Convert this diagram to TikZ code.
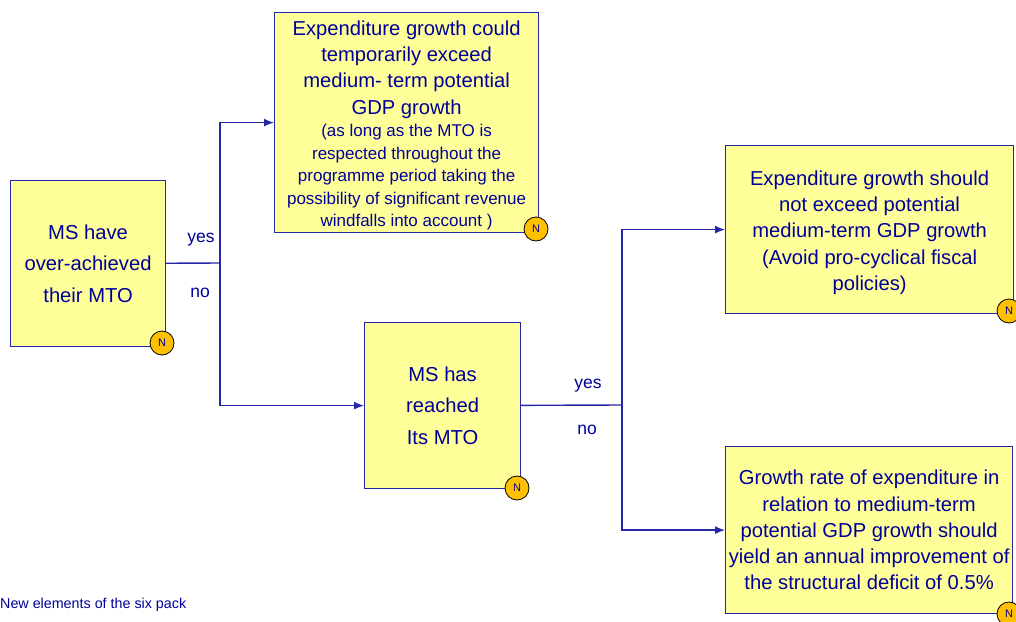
\documentclass[tikz,border=0pt]{standalone}
\usepackage{fontspec}
\setmainfont{Liberation Sans}
\usetikzlibrary{arrows.meta}
\definecolor{boxblue}{HTML}{000099}
\definecolor{boxfill}{HTML}{FFFF99}
\definecolor{badgefill}{HTML}{FFC000}
\newcommand{\bigtxt}{\fontsize{20.2}{26.3}\selectfont}
\newcommand{\smalltxt}{\fontsize{17}{22.5}\selectfont}
\tikzset{
  msbox/.style={draw=boxblue!85!white,line width=1.2pt,fill=boxfill,text=boxblue,align=center,
    inner sep=0pt,anchor=north west,font=\bigtxt},
  flow/.style={draw=boxblue!85!white,line width=1.4pt},
  flowto/.style={flow,-{Latex[length=10pt,width=8pt]}},
  badge/.style={circle,draw=black,line width=0.8pt,fill=badgefill,text=boxblue,minimum size=24pt,
    inner sep=0pt,font=\fontsize{11}{13}\selectfont},
  answer/.style={text=boxblue,inner sep=0pt,font=\fontsize{17.5}{20}\selectfont}
}
\begin{document}
\begin{tikzpicture}[x=1pt,y=-1pt]
  \useasboundingbox (0,0) rectangle (1016,621);
  \node[msbox,minimum width=155pt,minimum height=166pt] (over) at (10,180)
    {MS have\\[5pt]over-achieved\\[5pt]their MTO};
  \node[msbox,minimum width=264pt,minimum height=220pt] (could) at (274,12)
    {\rule{0pt}{20.5pt}Expenditure growth could\\temporarily exceed\\medium- term potential\\GDP growth\\[-3.8pt]
     \smalltxt (as long as the MTO is\\[-3.8pt]\smalltxt respected throughout the\\[-3.8pt]\smalltxt programme period taking the\\[-3.8pt]
     \smalltxt possibility of significant revenue\\[-3.8pt]\smalltxt windfalls into account )};
  \node[msbox,minimum width=156pt,minimum height=166pt] (reached) at (364,322)
    {MS has\\[5pt]reached\\[5pt]Its MTO};
  \node[msbox,minimum width=288pt,minimum height=168pt] (should) at (725,145)
    {\rule{0pt}{20.5pt}Expenditure growth should\\not exceed potential\\medium-term GDP growth\\(Avoid pro-cyclical fiscal\\policies)};
  \node[msbox,minimum width=287pt,minimum height=167pt] (rate) at (725,446)
    {Growth rate of expenditure in\\relation to medium-term\\potential GDP growth should\\yield an annual improvement of\\the structural deficit of 0.5\%};

  \coordinate (forkA) at (220,263);
  \coordinate (forkB) at (622,405);
  \draw[flow] (over) -- (forkA);
  \draw[flowto] (forkA) |- (could);
  \draw[flowto] (forkA) |- (reached);
  \draw[flow] (reached) -- (forkB);
  \draw[flowto] (forkB) |- (should);
  \draw[flowto] (forkB) |- (rate);

  \node[answer] (yesA) at (201,240) {yes};
  \node[answer] (noA) at (200,293) {no};
  \node[answer] (yesB) at (588,386) {yes};
  \node[answer] (noB) at (587,430) {no};

  \node[badge] (nA) at (162,343) {N};
  \node[badge] (nB) at (536,229) {N};
  \node[badge] (nC) at (517,488) {N};
  \node[badge] (nD) at (1009,311) {N};
  \node[badge] (nE) at (1009,614) {N};

  \node[text=boxblue,inner sep=0pt,anchor=west,font=\fontsize{14.3}{16}\selectfont] (note) at (0,604.5)
    {New elements of the six pack};
\end{tikzpicture}
\end{document}
